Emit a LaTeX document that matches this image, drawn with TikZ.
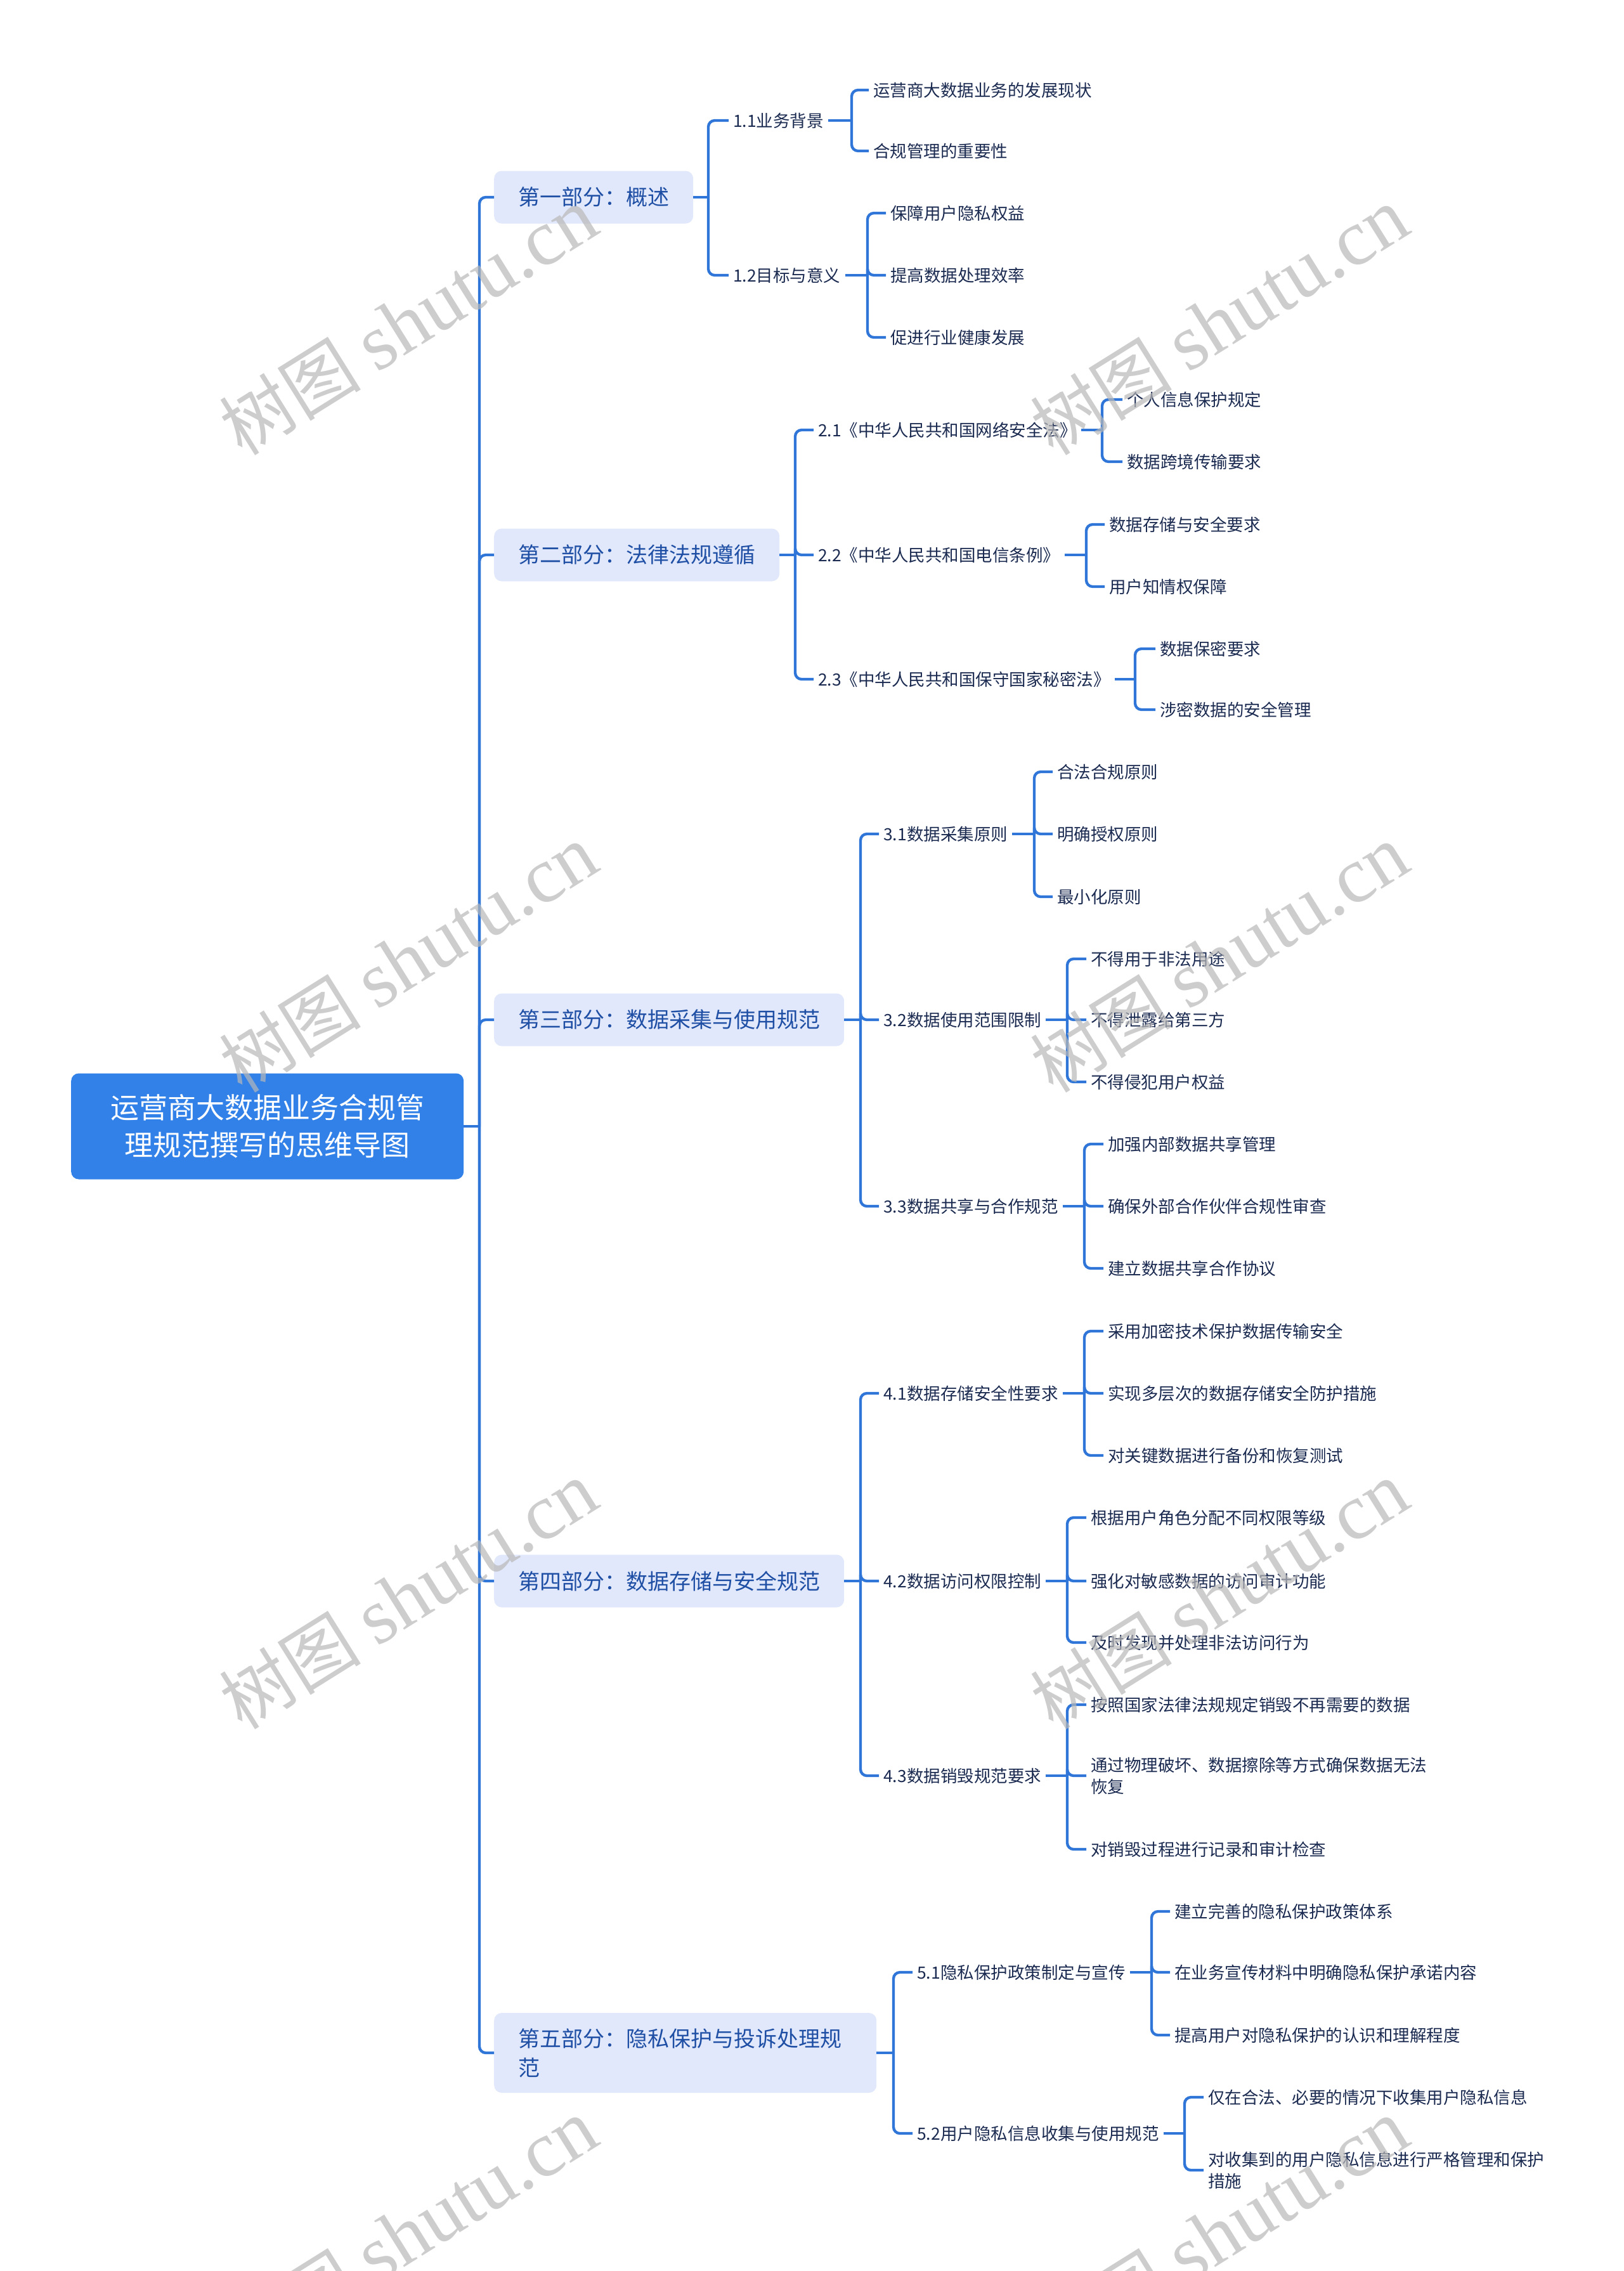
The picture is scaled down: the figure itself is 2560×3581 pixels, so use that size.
\documentclass[tikz,border=0pt]{standalone}
\usepackage{fontspec}
\setmainfont{Noto Sans CJK SC}
\newfontfamily\wmlatin{Liberation Serif}
\usepackage{xcolor}
\usepackage{tikz}
\definecolor{linkblue}{HTML}{2F76D8}
\definecolor{rootblue}{HTML}{3181E8}
\definecolor{partfill}{HTML}{E1E8FB}
\definecolor{parttext}{HTML}{1F4FA5}
\definecolor{leaftext}{HTML}{1B2A50}

\begin{document}
\begin{tikzpicture}[x=1pt, y=-1pt,
      root/.style={rectangle, rounded corners=12pt, fill=rootblue, text=white,
        anchor=west, minimum width=619pt, minimum height=167pt, align=center,
        font=\fontsize{45}{59}\selectfont},
      part/.style={rectangle, rounded corners=12pt, fill=partfill, text=parttext,
        anchor=west, minimum height=83pt, inner xsep=38pt,
        font=\fontsize{34}{46}\selectfont},
      sub/.style={anchor=west, inner xsep=7pt, inner ysep=2pt, text=leaftext,
        font=\fontsize{26.5}{34}\selectfont},
      leaf/.style={sub, align=left},
      link/.style={draw=linkblue, line width=4.3pt, rounded corners=10pt},
      wmark/.style={rotate=32, text=black!28, opacity=0.7}]
    \useasboundingbox (0,0) rectangle (2560,3581);
    \fill[white] (0,0) rectangle (2560,3581);

    % root and main branches
    \node[root] (root) at (112,1776) {运营商大数据业务合规管\\理规范撰写的思维导图};
    \node[part, minimum width=313pt] (part1) at (779,311)  {第一部分：概述};
    \node[part, minimum width=450pt] (part2) at (779,875)  {第二部分：法律法规遵循};
    \node[part, minimum width=550pt] (part3) at (779,1608) {第三部分：数据采集与使用规范};
    \node[part, minimum width=550pt] (part4) at (779,2493) {第四部分：数据存储与安全规范};
    \node[part, minimum width=603pt, minimum height=126pt, text width=527pt, align=left]
      (part5) at (779,3237) {第五部分：隐私保护与投诉处理规\\范};

    \coordinate (j0) at (756,1776);
    \draw[link] (root.east) -- (j0);
    \foreach \p in {part1,part2,part3,part4,part5}
      \draw[link] (j0) |- (\p.west);

    % part 1
    \node[sub] (s11) at (1149,190) {1.1业务背景};
    \node[sub] (s12) at (1149,434) {1.2目标与意义};
    \node[leaf] (l111) at (1370,142) {运营商大数据业务的发展现状};
    \node[leaf] (l112) at (1370,238) {合规管理的重要性};
    \node[leaf] (l121) at (1397,336) {保障用户隐私权益};
    \node[leaf] (l122) at (1397,434) {提高数据处理效率};
    \node[leaf] (l123) at (1397,532) {促进行业健康发展};
    \coordinate (j1) at (1117,311);
    \coordinate (j11) at (1343,190);
    \coordinate (j12) at (1368,434);
    \draw[link] (part1.east) -- (j1);
    \foreach \c in {s11,s12} \draw[link] (j1) |- (\c.west);
    \draw[link] (s11.east) -- (j11);
    \foreach \c in {l111,l112} \draw[link] (j11) |- (\c.west);
    \draw[link] (s12.east) -- (j12);
    \foreach \c in {l121,l122,l123} \draw[link] (j12) |- (\c.west);

    % part 2
    \node[sub] (s21) at (1283,678)  {2.1《中华人民共和国网络安全法》};
    \node[sub] (s22) at (1283,875)  {2.2《中华人民共和国电信条例》};
    \node[sub] (s23) at (1283,1071) {2.3《中华人民共和国保守国家秘密法》};
    \node[leaf] (l211) at (1770,630)  {个人信息保护规定};
    \node[leaf] (l212) at (1770,728)  {数据跨境传输要求};
    \node[leaf] (l221) at (1742,827)  {数据存储与安全要求};
    \node[leaf] (l222) at (1742,925)  {用户知情权保障};
    \node[leaf] (l231) at (1822,1023) {数据保密要求};
    \node[leaf] (l232) at (1822,1119) {涉密数据的安全管理};
    \coordinate (j2) at (1254,875);
    \coordinate (j21) at (1738,678);
    \coordinate (j22) at (1713,875);
    \coordinate (j23) at (1790,1071);
    \draw[link] (part2.east) -- (j2);
    \foreach \c in {s21,s22,s23} \draw[link] (j2) |- (\c.west);
    \draw[link] (s21.east) -- (j21);
    \foreach \c in {l211,l212} \draw[link] (j21) |- (\c.west);
    \draw[link] (s22.east) -- (j22);
    \foreach \c in {l221,l222} \draw[link] (j22) |- (\c.west);
    \draw[link] (s23.east) -- (j23);
    \foreach \c in {l231,l232} \draw[link] (j23) |- (\c.west);

    % part 3
    \node[sub] (s31) at (1386,1315) {3.1数据采集原则};
    \node[sub] (s32) at (1386,1608) {3.2数据使用范围限制};
    \node[sub] (s33) at (1386,1902) {3.3数据共享与合作规范};
    \node[leaf] (l311) at (1660,1217) {合法合规原则};
    \node[leaf] (l312) at (1660,1315) {明确授权原则};
    \node[leaf] (l313) at (1660,1414) {最小化原则};
    \node[leaf] (l321) at (1713,1512) {不得用于非法用途};
    \node[leaf] (l322) at (1713,1608) {不得泄露给第三方};
    \node[leaf] (l323) at (1713,1706) {不得侵犯用户权益};
    \node[leaf] (l331) at (1740,1804) {加强内部数据共享管理};
    \node[leaf] (l332) at (1740,1902) {确保外部合作伙伴合规性审查};
    \node[leaf] (l333) at (1740,2000) {建立数据共享合作协议};
    \coordinate (j3) at (1357,1608);
    \coordinate (j31) at (1631,1315);
    \coordinate (j32) at (1683,1608);
    \coordinate (j33) at (1710,1902);
    \draw[link] (part3.east) -- (j3);
    \foreach \c in {s31,s32,s33} \draw[link] (j3) |- (\c.west);
    \draw[link] (s31.east) -- (j31);
    \foreach \c in {l311,l312,l313} \draw[link] (j31) |- (\c.west);
    \draw[link] (s32.east) -- (j32);
    \foreach \c in {l321,l322,l323} \draw[link] (j32) |- (\c.west);
    \draw[link] (s33.east) -- (j33);
    \foreach \c in {l331,l332,l333} \draw[link] (j33) |- (\c.west);

    % part 4
    \node[sub] (s41) at (1386,2197) {4.1数据存储安全性要求};
    \node[sub] (s42) at (1386,2493) {4.2数据访问权限控制};
    \node[sub] (s43) at (1386,2800) {4.3数据销毁规范要求};
    \node[leaf] (l411) at (1740,2099) {采用加密技术保护数据传输安全};
    \node[leaf] (l412) at (1740,2197) {实现多层次的数据存储安全防护措施};
    \node[leaf] (l413) at (1740,2295) {对关键数据进行备份和恢复测试};
    \node[leaf] (l421) at (1713,2393) {根据用户角色分配不同权限等级};
    \node[leaf] (l422) at (1713,2493) {强化对敏感数据的访问审计功能};
    \node[leaf] (l423) at (1713,2590) {及时发现并处理非法访问行为};
    \node[leaf] (l431) at (1713,2688) {按照国家法律法规规定销毁不再需要的数据};
    \node[leaf] (l432) at (1713,2800) {通过物理破坏、数据擦除等方式确保数据无法\\恢复};
    \node[leaf] (l433) at (1713,2916) {对销毁过程进行记录和审计检查};
    \coordinate (j4) at (1357,2493);
    \coordinate (j41) at (1710,2197);
    \coordinate (j42) at (1683,2493);
    \coordinate (j43) at (1683,2800);
    \draw[link] (part4.east) -- (j4);
    \foreach \c in {s41,s42,s43} \draw[link] (j4) |- (\c.west);
    \draw[link] (s41.east) -- (j41);
    \foreach \c in {l411,l412,l413} \draw[link] (j41) |- (\c.west);
    \draw[link] (s42.east) -- (j42);
    \foreach \c in {l421,l422,l423} \draw[link] (j42) |- (\c.west);
    \draw[link] (s43.east) -- (j43);
    \foreach \c in {l431,l432,l433} \draw[link] (j43) |- (\c.west);

    % part 5
    \node[sub] (s51) at (1439,3110) {5.1隐私保护政策制定与宣传};
    \node[sub] (s52) at (1439,3364) {5.2用户隐私信息收集与使用规范};
    \node[leaf] (l511) at (1845,3014) {建立完善的隐私保护政策体系};
    \node[leaf] (l512) at (1845,3110) {在业务宣传材料中明确隐私保护承诺内容};
    \node[leaf] (l513) at (1845,3209) {提高用户对隐私保护的认识和理解程度};
    \node[leaf] (l521) at (1898,3307) {仅在合法、必要的情况下收集用户隐私信息};
    \node[leaf] (l522) at (1898,3422) {对收集到的用户隐私信息进行严格管理和保护\\措施};
    \coordinate (j5) at (1409,3237);
    \coordinate (j51) at (1816,3110);
    \coordinate (j52) at (1868,3364);
    \draw[link] (part5.east) -- (j5);
    \foreach \c in {s51,s52} \draw[link] (j5) |- (\c.west);
    \draw[link] (s51.east) -- (j51);
    \foreach \c in {l511,l512,l513} \draw[link] (j51) |- (\c.west);
    \draw[link] (s52.east) -- (j52);
    \foreach \c in {l521,l522} \draw[link] (j52) |- (\c.west);

    % watermarks
    \foreach \wx in {644,1923}
      \foreach \wy in {507,1512,2516,3521}
        \node[wmark] (wm-\wx-\wy) at (\wx,\wy)
          {\fontsize{112}{120}\selectfont 树图 {\wmlatin\fontsize{125}{130}\selectfont shutu.cn}};
  \end{tikzpicture}
\end{document}
